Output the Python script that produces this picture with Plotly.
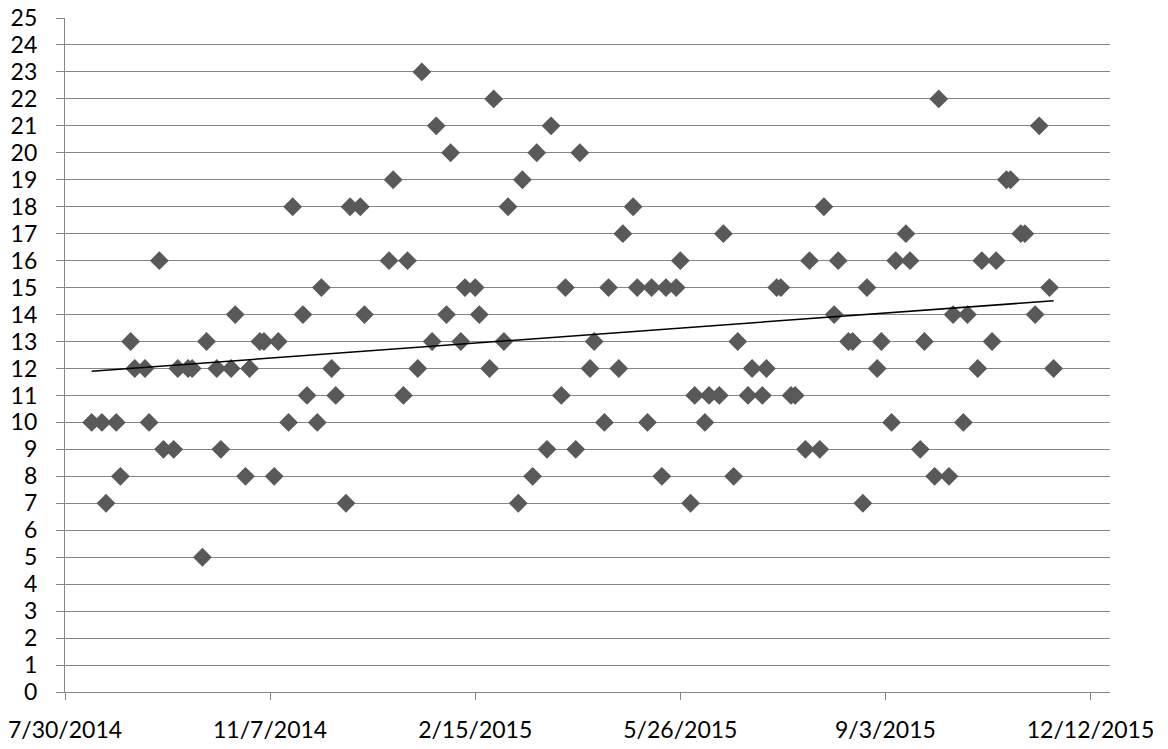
import numpy as np
import pandas as pd
import plotly.graph_objects as go

dates = [
    "2014-08-12",
    "2014-08-17", "2014-08-19", "2014-08-24", "2014-08-26", "2014-08-31", "2014-09-02",
    "2014-09-07", "2014-09-09", "2014-09-14", "2014-09-16", "2014-09-21", "2014-09-23",
    "2014-09-28", "2014-09-30", "2014-10-05", "2014-10-07", "2014-10-12", "2014-10-14",
    "2014-10-19", "2014-10-21", "2014-10-26", "2014-10-28", "2014-11-02", "2014-11-04",
    "2014-11-09", "2014-11-11", "2014-11-16", "2014-11-18", "2014-11-23", "2014-11-25",
    "2014-11-30", "2014-12-02", "2014-12-07", "2014-12-09", "2014-12-14", "2014-12-16",
    "2014-12-21", "2014-12-23",
    "2015-01-04", "2015-01-06", "2015-01-11", "2015-01-13", "2015-01-18", "2015-01-20",
    "2015-01-25", "2015-01-27", "2015-02-01", "2015-02-03", "2015-02-08", "2015-02-10",
    "2015-02-15", "2015-02-17", "2015-02-22", "2015-02-24", "2015-03-01", "2015-03-03",
    "2015-03-08", "2015-03-10", "2015-03-15", "2015-03-17", "2015-03-22", "2015-03-24",
    "2015-03-29", "2015-03-31", "2015-04-05", "2015-04-07", "2015-04-12", "2015-04-14",
    "2015-04-19", "2015-04-21", "2015-04-26", "2015-04-28", "2015-05-03", "2015-05-05",
    "2015-05-10", "2015-05-12", "2015-05-17", "2015-05-19", "2015-05-24", "2015-05-26",
    "2015-05-31", "2015-06-02", "2015-06-07", "2015-06-09", "2015-06-14", "2015-06-16",
    "2015-06-21", "2015-06-23", "2015-06-28", "2015-06-30", "2015-07-05", "2015-07-07",
    "2015-07-12", "2015-07-14", "2015-07-19", "2015-07-21", "2015-07-26", "2015-07-28",
    "2015-08-02", "2015-08-04", "2015-08-09", "2015-08-11", "2015-08-16", "2015-08-18",
    "2015-08-23", "2015-08-25", "2015-08-30", "2015-09-01", "2015-09-06", "2015-09-08",
    "2015-09-13", "2015-09-15", "2015-09-20", "2015-09-22", "2015-09-27", "2015-09-29",
    "2015-10-04", "2015-10-06", "2015-10-11", "2015-10-13", "2015-10-18", "2015-10-20",
    "2015-10-25", "2015-10-27", "2015-11-01", "2015-11-03", "2015-11-08", "2015-11-10",
    "2015-11-15", "2015-11-17", "2015-11-22", "2015-11-24",
]

values = [
    10,
    10, 7, 10, 8, 13, 12, 12, 10, 16, 9, 9, 12, 12, 12, 5, 13, 12, 9, 12, 14,
    8, 12, 13, 13, 8, 13, 10, 18, 14, 11, 10, 15, 12, 11, 7, 18, 18, 14,
    16, 19, 11, 16, 12, 23, 13, 21, 14, 20, 13, 15, 15, 14, 12, 22, 13, 18,
    7, 19, 8, 20, 9, 21, 11, 15, 9, 20, 12, 13, 10, 15, 12, 17, 18, 15,
    10, 15, 8, 15, 15, 16, 7, 11, 10, 11, 11, 17, 8, 13, 11, 12, 11, 12,
    15, 15, 11, 11, 9, 16, 9, 18, 14, 16, 13, 13, 7, 15, 12, 13, 10, 16,
    17, 16, 9, 13, 8, 22, 8, 14, 10, 14, 12, 16, 13, 16, 19, 19, 17, 17,
    14, 21, 15, 12,
]

tick_dates = ["2014-07-30", "2014-11-07", "2015-02-15", "2015-05-26", "2015-09-03", "2015-12-12"]
tick_labels = ["7/30/2014", "11/7/2014", "2/15/2015", "5/26/2015", "9/3/2015", "12/12/2015"]
y_ticks = list(range(0, 26))

x = pd.to_datetime(dates)
xd = (x - x[0]).days.values.astype(float)
slope, intercept = np.polyfit(xd, np.array(values, dtype=float), 1)
trend_x = [x[0], x[-1]]
trend_y = [intercept, intercept + slope * xd[-1]]

grid = "#868686"
fig = go.Figure()
fig.add_trace(go.Scatter(
    x=x, y=values, mode="markers",
    marker=dict(symbol="diamond", size=14.5, color="#595959", line=dict(width=0)),
    showlegend=False, cliponaxis=False,
))
fig.add_trace(go.Scatter(
    x=trend_x, y=trend_y, mode="lines",
    line=dict(color="black", width=1.5), showlegend=False,
))

fig.update_layout(
    width=1168, height=749,
    margin=dict(l=65, r=58, t=18, b=57, autoexpand=False),
    plot_bgcolor="white", paper_bgcolor="white",
    font=dict(family="Lato", size=23, color="black"),
)
fig.update_xaxes(
    type="date", automargin=False,
    range=["2014-07-30", "2015-12-21 12:00"],
    tickvals=tick_dates, ticktext=tick_labels,
    showgrid=False, zeroline=False,
    showline=True, linecolor=grid, linewidth=1.3,
    ticks="outside", ticklen=7, tickcolor=grid, tickwidth=1.3,
    ticklabelstandoff=10,
)
fig.update_yaxes(
    range=[0, 25], tickvals=y_ticks, automargin=False,
    showgrid=True, gridcolor=grid, gridwidth=1.3,
    zeroline=False,
    showline=True, linecolor=grid, linewidth=1.3,
    ticks="outside", ticklen=8, tickcolor=grid, tickwidth=1.3,
    ticklabelstandoff=14,
)
fig.write_html(
    "out.html",
    config={"displayModeBar": False},
    post_script="document.body.style.margin='0';document.body.style.overflow='hidden';",
)
